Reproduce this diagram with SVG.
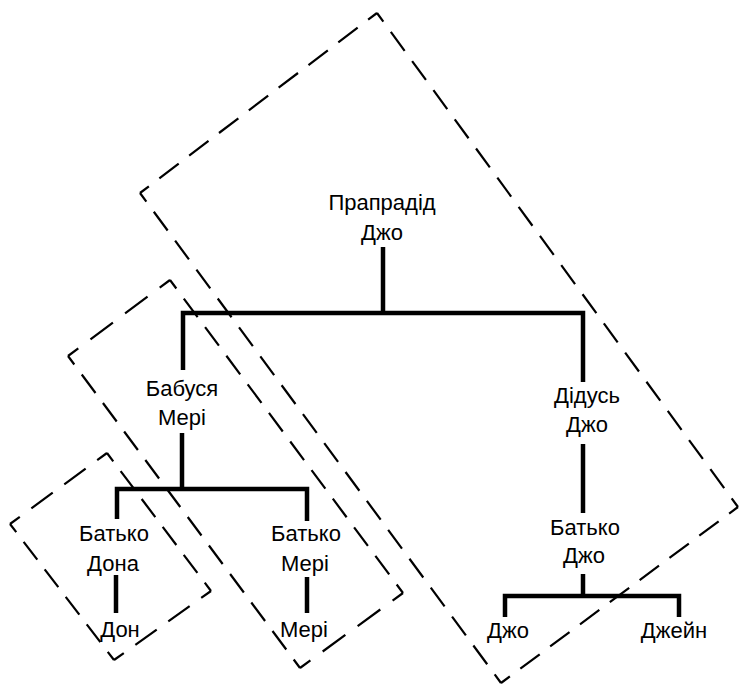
<svg xmlns="http://www.w3.org/2000/svg" width="740" height="687" viewBox="0 0 740 687">
<style>
.bg{fill:#fff}
.dash{fill:none;stroke:#000;stroke-width:2.2;stroke-dasharray:24 13;stroke-dashoffset:13;stroke-linecap:butt}
.tree{fill:none;stroke:#000;stroke-width:4.5;stroke-linejoin:miter;stroke-linecap:butt}
.lbl{font-family:"Liberation Sans",Arial,Helvetica,sans-serif;font-size:22px;fill:#000;text-anchor:middle}
</style>
<rect class="bg" x="0" y="0" width="740" height="687"/>
<g id="groups">
  <g id="group-big">
    <path class="dash" d="M377 13 L738 507" pathLength="627"/>
    <path class="dash" d="M738 507 L501 683" pathLength="294"/>
    <path class="dash" d="M501 683 L140 193" pathLength="627"/>
    <path class="dash" d="M140 193 L377 13" pathLength="294"/>
  </g>
  <g id="group-middle">
    <path class="dash" d="M170 280 L403 593" pathLength="405"/>
    <path class="dash" d="M403 593 L300 668" pathLength="109"/>
    <path class="dash" d="M300 668 L68 356" pathLength="405"/>
    <path class="dash" d="M68 356 L170 280" pathLength="109"/>
  </g>
  <g id="group-small">
    <path class="dash" d="M107 453 L211 591" pathLength="183"/>
    <path class="dash" d="M211 591 L114 660" pathLength="109"/>
    <path class="dash" d="M114 660 L10 524" pathLength="183"/>
    <path class="dash" d="M10 524 L107 453" pathLength="109"/>
  </g>
</g>
<g id="connectors">
  <path class="tree" d="M383 247 V313"/>
  <path class="tree" d="M183 370 V313 H583 V382"/>
  <path class="tree" d="M182 433 V489"/>
  <path class="tree" d="M117 519 V489 H307 V521"/>
  <path class="tree" d="M116 575 V613"/>
  <path class="tree" d="M307 577 V613"/>
  <path class="tree" d="M583 444 V513"/>
  <path class="tree" d="M583 574 V596"/>
  <path class="tree" d="M505 617 V596 H679 V617"/>
</g>
<g id="node-great-grandfather-joe"><text class="lbl" x="382" y="210">Прапрадід</text><text class="lbl" x="382" y="240">Джо</text></g>
<g id="node-grandma-mary"><text class="lbl" x="182" y="396">Бабуся</text><text class="lbl" x="182" y="425">Мері</text></g>
<g id="node-grandpa-joe"><text class="lbl" x="587" y="403">Дідусь</text><text class="lbl" x="587" y="432">Джо</text></g>
<g id="node-father-don"><text class="lbl" x="114" y="541">Батько</text><text class="lbl" x="113" y="571">Дона</text></g>
<g id="node-father-mary"><text class="lbl" x="306" y="541">Батько</text><text class="lbl" x="305" y="571">Мері</text></g>
<g id="node-father-joe"><text class="lbl" x="585" y="535">Батько</text><text class="lbl" x="584" y="563">Джо</text></g>
<g id="node-don"><text class="lbl" x="120" y="637">Дон</text></g>
<g id="node-mary"><text class="lbl" x="304" y="637">Мері</text></g>
<g id="node-joe"><text class="lbl" x="508" y="638">Джо</text></g>
<g id="node-jane"><text class="lbl" x="674" y="638">Джейн</text></g>
</svg>
